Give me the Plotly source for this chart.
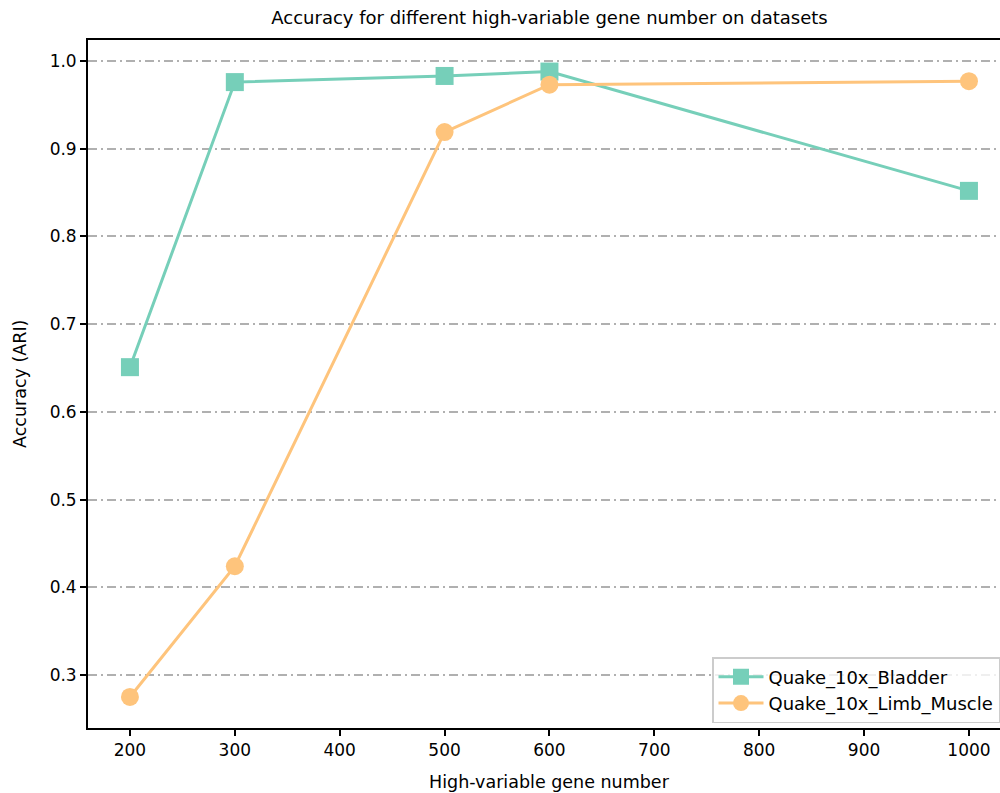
import plotly.graph_objects as go

# High-variable gene counts tested
gene_numbers = [200, 300, 500, 600, 1000]

# ARI accuracy per dataset
bladder_ari = [0.651, 0.976, 0.983, 0.988, 0.852]
limb_muscle_ari = [0.275, 0.424, 0.919, 0.973, 0.977]

x_ticks = [200, 300, 400, 500, 600, 700, 800, 900, 1000]
y_ticks = [0.3, 0.4, 0.5, 0.6, 0.7, 0.8, 0.9, 1.0]

TEAL = "#76cfb9"
ORANGE = "#fec47c"
FONT = "DejaVu Sans, Verdana, sans-serif"

# plot-area geometry in pixels
L, T, B = 88, 40, 65
W, H = 1000, 793
PW, PH = W - L, H - T - B

fig = go.Figure()

fig.add_trace(go.Scatter(
    x=gene_numbers, y=bladder_ari, name="Quake_10x_Bladder",
    mode="lines+markers",
    line=dict(color=TEAL, width=3),
    marker=dict(symbol="square", size=18, color=TEAL),
))
fig.add_trace(go.Scatter(
    x=gene_numbers, y=limb_muscle_ari, name="Quake_10x_Limb_Muscle",
    mode="lines+markers",
    line=dict(color=ORANGE, width=3),
    marker=dict(symbol="circle", size=18, color=ORANGE),
))

fig.update_layout(
    width=W, height=H,
    margin=dict(l=L, r=0, t=T, b=B),
    paper_bgcolor="white", plot_bgcolor="white",
    font=dict(family=FONT, size=17, color="black"),
    title=dict(
        text="Accuracy for different high-variable gene number on datasets",
        x=0.5495, xref="container", xanchor="center",
        y=1 - 18 / H, yref="container", yanchor="middle",
        font=dict(size=18),
    ),
    xaxis=dict(
        range=[160, 160 + PW / 1.04875],
        tickvals=x_ticks, ticks="outside", ticklen=6, tickwidth=1.5,
        tickcolor="black", showgrid=False, zeroline=False,
        showline=True, linecolor="black", linewidth=1.8, mirror=True,
        tickfont=dict(size=17),
    ),
    yaxis=dict(
        range=[0.2396, 1.024],
        tickvals=y_ticks, tickformat=".1f",
        ticks="outside", ticklen=6, tickwidth=1.5, tickcolor="black",
        showgrid=True, gridcolor="#b0b0b0", gridwidth=1.6,
        griddash="9px,4px,2px,4px",
        zeroline=False,
        showline=True, linecolor="black", linewidth=1.8, mirror=False,
        tickfont=dict(size=17),
    ),
    legend=dict(
        x=(712 - L) / PW, xanchor="left",
        y=(H - B - 657) / PH, yanchor="top",
        bgcolor="rgba(255,255,255,0.8)", bordercolor="#cccccc", borderwidth=1.5,
        font=dict(size=18),
        tracegroupgap=0, itemwidth=45,
    ),
    showlegend=True,
    annotations=[
        dict(text="High-variable gene number", xref="paper", yref="paper",
             x=(549.5 - L) / PW, y=-(782 - (H - B)) / PH,
             xanchor="center", yanchor="middle", showarrow=False,
             font=dict(size=17.5)),
        dict(text="Accuracy (ARI)", xref="paper", yref="paper",
             x=(20 - L) / PW, y=0.5, textangle=-90,
             xanchor="center", yanchor="middle", showarrow=False,
             font=dict(size=17.5)),
    ],
)

fig.write_html("out.html")
